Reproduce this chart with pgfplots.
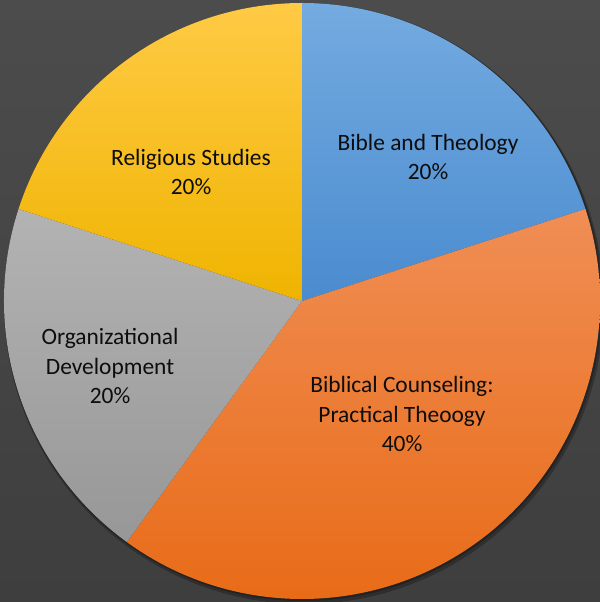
\documentclass[border=0pt]{standalone}
\usepackage{pgfplots}
\pgfplotsset{compat=1.18}
\usepackage{pgfplotstable}
\usepackage{fontspec}
\setmainfont{Carlito}

\definecolor{bgtop}{HTML}{4C4C4C}
\definecolor{bgbot}{HTML}{3E3E3E}
\definecolor{blueT}{HTML}{74ABE0}
\definecolor{blueB}{HTML}{4A8BCF}
\definecolor{orangeT}{HTML}{F08E55}
\definecolor{orangeB}{HTML}{E86A15}
\definecolor{grayT}{HTML}{B3B3B3}
\definecolor{grayB}{HTML}{979797}
\definecolor{yelT}{HTML}{FFCA45}
\definecolor{yelB}{HTML}{EFB400}

% share of each programme (percent), clockwise from 12 o'clock
\pgfplotstableread[col sep=comma]{
name,value
Bible and Theology,20
Biblical Counseling,40
Organizational Development,20
Religious Studies,20
}\shares

\pgfplotstablegetelem{0}{value}\of\shares \let\va\pgfplotsretval
\pgfplotstablegetelem{1}{value}\of\shares \let\vb\pgfplotsretval
\pgfplotstablegetelem{2}{value}\of\shares \let\vc\pgfplotsretval
\pgfplotstablegetelem{3}{value}\of\shares \let\vd\pgfplotsretval
\pgfmathsetmacro\aA{90}
\pgfmathsetmacro\aB{\aA-3.6*\va}
\pgfmathsetmacro\aC{\aB-3.6*\vb}
\pgfmathsetmacro\aD{\aC-3.6*\vc}
\pgfmathsetmacro\aE{\aD-3.6*\vd}

\newcommand\slice[4]{% start, end, top colour, bottom colour
  \shade[top color=#3, bottom color=#4]
    (axis cs:302,301) -- ([shift={(#1:298bp)}]axis cs:302,301)
    arc[start angle=#1, end angle=#2, radius=298bp] -- cycle;}

\begin{document}
\begin{tikzpicture}
\begin{axis}[
  width=600bp, height=602bp, scale only axis,
  xmin=0, xmax=600, ymin=0, ymax=602,
  axis lines=none, ticks=none, clip=true,
]
\shade[top color=bgtop, bottom color=bgbot]
  (rel axis cs:0,0) rectangle (rel axis cs:1,1);
% soft shadow
\fill[black, opacity=0.25] ([shift={(2bp,-3bp)}]axis cs:302,301) circle[radius=300bp];
\fill[black, opacity=0.25] ([shift={(1bp,-1bp)}]axis cs:302,301) circle[radius=299bp];

\slice{\aA}{\aB}{blueT}{blueB}
\slice{\aB}{\aC}{orangeT}{orangeB}
\slice{\aC}{\aD}{grayT}{grayB}
\slice{\aD}{\aE}{yelT}{yelB}

\begin{scope}[every node/.style={align=center, font=\fontsize{23.5}{30}\selectfont, text=black!95}]
\node at (axis cs:428,445) {Bible and Theology\\\va\%};
\node at (axis cs:402,188) {Biblical Counseling:\\Practical Theoogy\\\vb\%};
\node at (axis cs:110,236) {Organizational\\Development\\\vc\%};
\node at (axis cs:191,430) {Religious Studies\\\vd\%};
\end{scope}
\end{axis}
\pgfresetboundingbox
\path (current axis.south west) rectangle (current axis.north east);
\end{tikzpicture}
\end{document}
